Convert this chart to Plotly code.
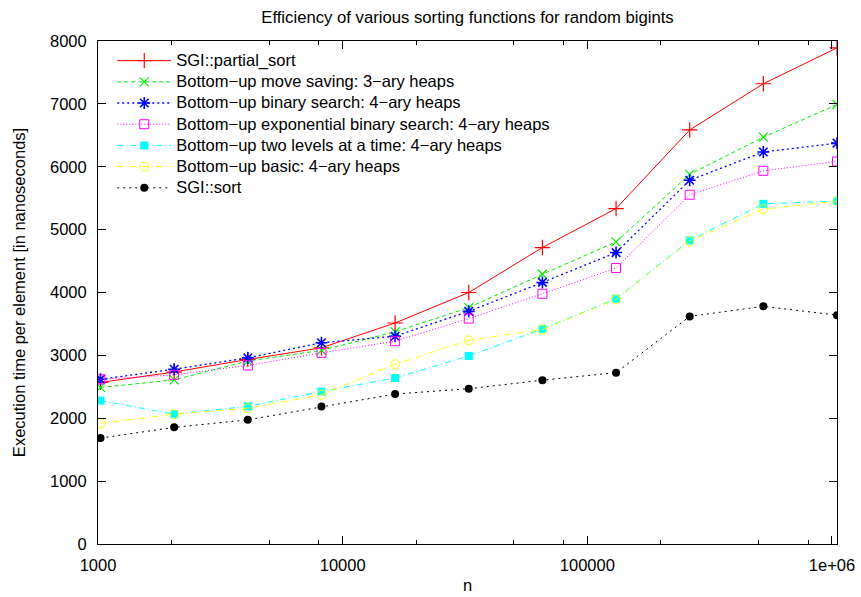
import plotly.graph_objects as go

# problem sizes: 2^10 .. 2^20
n = [1024, 2048, 4096, 8192, 16384, 32768, 65536, 131072, 262144, 524288, 1048576]

partial_sort = [2570, 2735, 2935, 3120, 3515, 4000, 4715, 5335, 6585, 7320, 7890]
move_saving_3ary = [2490, 2610, 2910, 3080, 3375, 3760, 4290, 4805, 5880, 6470, 6990]
binary_search_4ary = [2620, 2780, 2960, 3200, 3305, 3700, 4160, 4635, 5785, 6235, 6375]
exp_binary_search_4ary = [2620, 2690, 2840, 3040, 3225, 3585, 3980, 4390, 5555, 5935, 6085]
two_levels_4ary = [2280, 2065, 2190, 2425, 2640, 2990, 3420, 3900, 4830, 5410, 5455]
basic_4ary = [1920, 2065, 2160, 2375, 2860, 3240, 3410, 3890, 4815, 5325, 5450]
sgi_sort = [1685, 1855, 1975, 2185, 2385, 2470, 2605, 2725, 3620, 3780, 3640]

names = [
    "SGI::partial_sort",
    "Bottom\u2212up move saving: 3\u2212ary heaps",
    "Bottom\u2212up binary search: 4\u2212ary heaps",
    "Bottom\u2212up exponential binary search: 4\u2212ary heaps",
    "Bottom\u2212up two levels at a time: 4\u2212ary heaps",
    "Bottom\u2212up basic: 4\u2212ary heaps",
    "SGI::sort",
]
series = [partial_sort, move_saving_3ary, binary_search_4ary, exp_binary_search_4ary,
          two_levels_4ary, basic_4ary, sgi_sort]

x_tickvals = [1000, 10000, 100000, 1000000]
x_ticktext = ["1000", "10000", "100000", "1e+06"]
x_minor = [2000, 5000, 8000, 20000, 50000, 80000, 200000, 500000, 800000]
y_tickvals = [0, 1000, 2000, 3000, 4000, 5000, 6000, 7000, 8000]

styles = [
    dict(color="#ff0000", dash="solid", symbol="cross-thin", size=11, lw=1, mlw=1.2),
    dict(color="#00ee00", dash="4px,3px", symbol="x-thin", size=9, lw=1, mlw=1.2),
    dict(color="#0000ff", dash="2px,3px", symbol="asterisk", size=10, lw=1.3, mlw=1.6),
    dict(color="#ff00ff", dash="1px,2px", symbol="square-open", size=9, lw=1, mlw=1),
    dict(color="#00ffff", dash="6px,3px,1px,3px", symbol="square", size=8, lw=1, mlw=0),
    dict(color="#ffff00", dash="6px,3px,1px,3px", symbol="circle-open", size=9, lw=1, mlw=1),
    dict(color="#000000", dash="2px,4px", symbol="circle", size=8, lw=1, mlw=0),
]

LABEL_SIZE = 16.5
# legend rows are spaced from the legend's base font size; entry text uses the label size
LEGEND_ROW_FONT = 14

fig = go.Figure()
for i, (name, ys, st) in enumerate(zip(names, series, styles)):
    fig.add_trace(go.Scatter(
        x=n, y=ys, mode="lines+markers",
        name=f'<span style="font-size:{LABEL_SIZE}px">{name}</span>',
        legendgroup=f"g{i}",
        line=dict(color=st["color"], width=st["lw"], dash=st["dash"]),
        marker=dict(symbol=st["symbol"], size=st["size"], color=st["color"],
                    line=dict(color=st["color"], width=st["mlw"])),
    ))

font = "Liberation Sans, Arial, sans-serif"
fig.update_layout(
    width=861, height=597,
    margin=dict(l=98, r=24, t=41, b=53),
    paper_bgcolor="white", plot_bgcolor="white",
    font=dict(family=font, size=LABEL_SIZE, color="black"),
    title=dict(text="Efficiency of various sorting functions for random bigints",
               x=0.5, xref="paper", y=0.972, yanchor="middle",
               font=dict(size=16.7)),
    legend=dict(x=0.0193, y=0.992, xanchor="left", yanchor="top",
                bgcolor="rgba(0,0,0,0)", itemwidth=54,
                tracegroupgap=0, font=dict(size=LEGEND_ROW_FONT)),
    showlegend=True,
)
fig.update_xaxes(
    type="log", range=[3, 6.0206], automargin=False,
    tickmode="array", tickvals=x_tickvals, ticktext=x_ticktext,
    ticks="inside", ticklen=8, tickcolor="black", ticklabelstandoff=6,
    showline=True, linecolor="black", linewidth=1, mirror="allticks",
    showgrid=False, zeroline=False,
    minor=dict(tickmode="array", tickvals=x_minor,
               ticks="inside", ticklen=4, tickcolor="black", showgrid=False),
    title=dict(text="n", standoff=6, font=dict(size=LABEL_SIZE)),
)
fig.update_yaxes(
    range=[0, 8000], automargin=False,
    tickmode="array", tickvals=y_tickvals,
    ticks="inside", ticklen=8, tickcolor="black", ticklabelstandoff=7,
    showline=True, linecolor="black", linewidth=1, mirror="allticks",
    showgrid=False, zeroline=False,
    title=dict(text="Execution time per element [in nanoseconds]", standoff=20,
               font=dict(size=LABEL_SIZE)),
)

fig.write_html("out.html")
